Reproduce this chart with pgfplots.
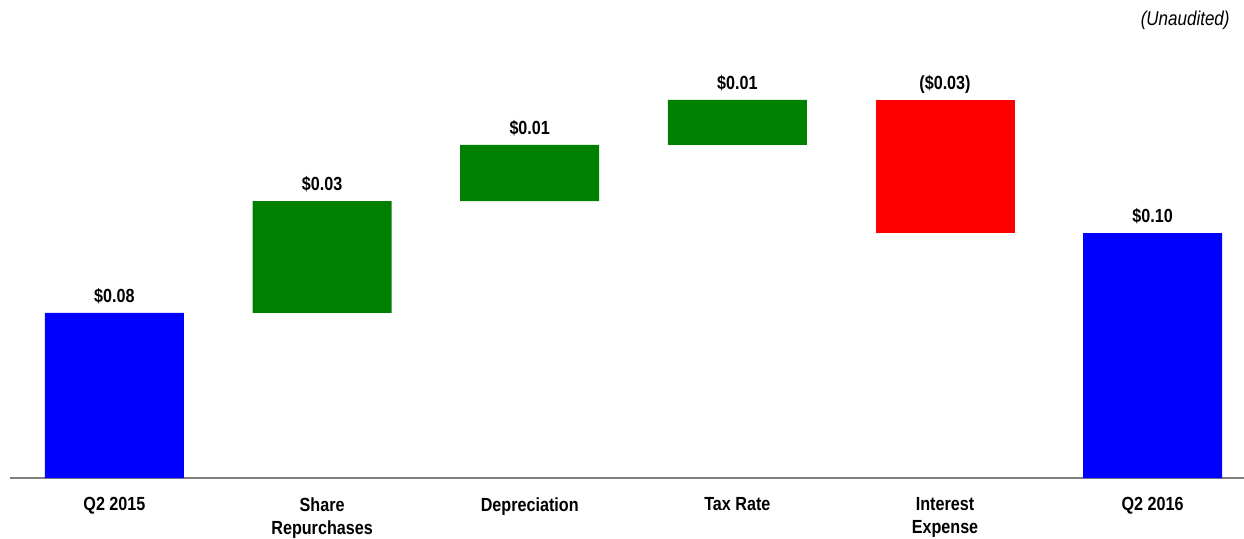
\documentclass[border=0pt]{standalone}
\usepackage{fontspec}
\setmainfont{Liberation Sans}[FakeStretch=0.85]
\usepackage{pgfplots}
\pgfplotsset{compat=1.18}
\definecolor{wfblue}{RGB}{0,0,255}
\definecolor{wfgreen}{RGB}{0,128,0}
\definecolor{wfred}{RGB}{255,0,0}
\definecolor{axgray}{RGB}{128,128,128}
\pgfplotsset{wfbase/.style={
  at={(5bp,0)}, anchor=south west,
  scale only axis, width=617bp, height=232.75bp,
  xmin=-0.503, xmax=5.44, ymin=0, ymax=0.19,
  clip=false,
}}
\begin{document}
\begin{tikzpicture}
\path[use as bounding box] (0,-30.5bp) rectangle (622bp,239bp);
\begin{axis}[
  wfbase,
  ybar stacked, bar width=69.5bp,
  axis x line*=bottom, axis y line=none,
  x axis line style={axgray, line width=0.6bp, -},
  xtick={0,1,2,3,4,5},
  xticklabels={Q2 2015,{Share\\Repurchases},Depreciation,Tax Rate,{Interest\\Expense},Q2 2016},
  major tick length=0pt,
  xticklabel style={align=center, inner sep=0pt, anchor=north, yshift=-9.5bp,
    font=\fontsize{9.5bp}{11.5bp}\selectfont\bfseries},
]
% invisible base
\addplot[draw=none, fill=none] coordinates {(0,0) (1,0.06735) (2,0.11306) (3,0.13592) (4,0.10000) (5,0)};
% blue totals
\addplot[draw=none, fill=wfblue] coordinates {(0,0.06735) (1,0) (2,0) (3,0) (4,0) (5,0.10000)};
% green increases
\addplot[draw=none, fill=wfgreen] coordinates {(0,0) (1,0.04571) (2,0.02286) (3,0.01837) (4,0) (5,0)};
% red decrease
\addplot[draw=none, fill=wfred] coordinates {(0,0) (1,0) (2,0) (3,0) (4,0.05429) (5,0)};
\end{axis}
\begin{axis}[
  wfbase,
  hide axis,
]
\addplot[draw=none, mark=none, nodes near coords, point meta=explicit symbolic,
  every node near coord/.append style={anchor=base, inner sep=0pt, yshift=5.25bp,
    font=\fontsize{9.5bp}{11.5bp}\selectfont\bfseries, text=black}]
  coordinates {(0,0.06735) [{\$0.08}] (1,0.11306) [{\$0.03}] (2,0.13592) [{\$0.01}] (3,0.15429) [{\$0.01}] (4,0.15429) [{(\$0.03)}] (5,0.10000) [{\$0.10}]};
\end{axis}
\node[anchor=east, inner sep=0pt, font=\fontsize{10bp}{12bp}\selectfont\itshape] at (615bp,229bp) {(Unaudited)};
\end{tikzpicture}
\end{document}
